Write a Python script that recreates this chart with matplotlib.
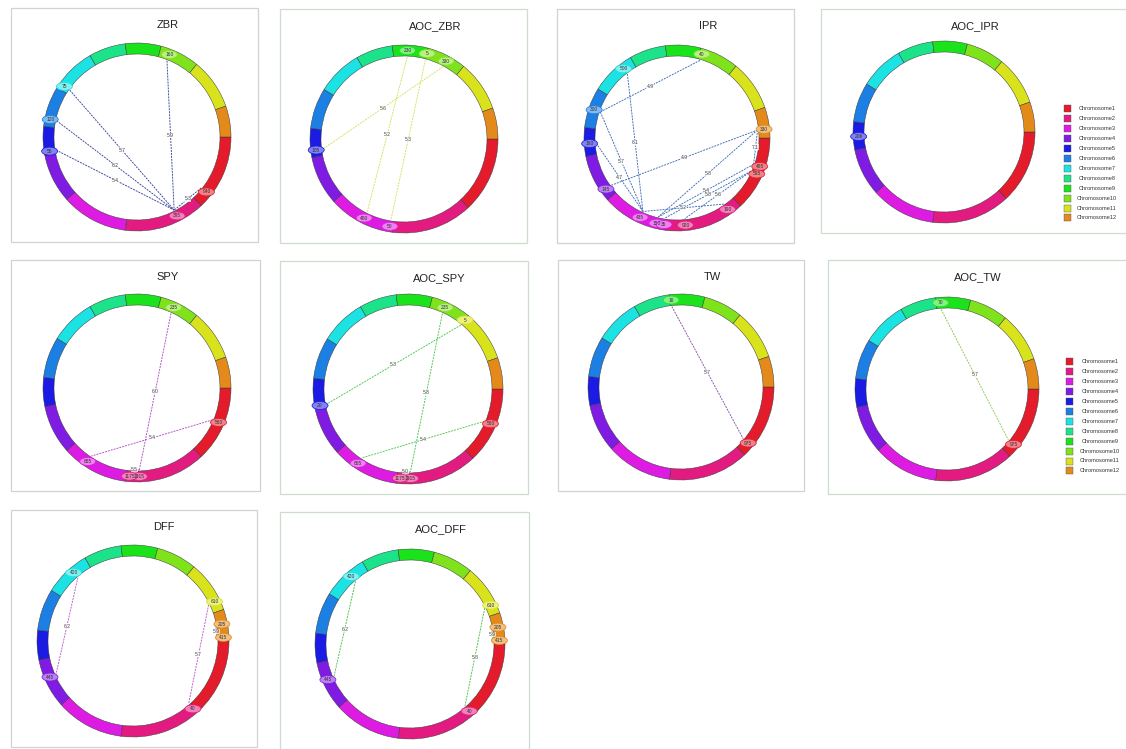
import numpy as np
import matplotlib
matplotlib.use("Agg")
import matplotlib.pyplot as plt
from matplotlib.patches import Wedge, Ellipse, Rectangle
from matplotlib.colors import to_rgb

plt.rcParams["font.family"] = ["Liberation Sans", "DejaVu Sans"]

# Genome: chromosome names, lengths (map units) and colours
chrom_names = [f"Chromosome{i}" for i in range(1, 13)]
chrom_len = [1150, 1230, 1010, 740, 440, 620, 690, 560, 540, 600, 770, 470]
chrom_colors = ["#E31B2B", "#E31B80", "#DE1BE3", "#7F1BE3", "#1B1BE3", "#1B7FE3",
                "#1BE3E3", "#1BE38A", "#1BE31B", "#7FE31B", "#D8E31B", "#E38A1B"]

# Interacting QTL pairs per trait: (chromosome, position) of both ends + LOD
zbr_from = [(10, 160), (7, 75), (6, 120), (5, 55), (1, 940)]
zbr_to = [(2, 395), (2, 395), (2, 395), (2, 395), (2, 395)]
zbr_lod = [5.9, 5.7, 6.2, 5.4, 5.3]

aoc_zbr_from = [(9, 230), (10, 5), (10, 330)]
aoc_zbr_to = [(3, 480), (3, 50), (5, 105)]
aoc_zbr_lod = [5.2, 5.3, 5.6]

ipr_from = [(10, 40), (6, 300), (7, 500), (5, 190), (4, 145), (12, 330),
            (12, 330), (1, 465), (1, 595), (2, 190), (1, 595)]
ipr_to = [(6, 300), (3, 435), (3, 435), (3, 435), (12, 330), (3, 150),
          (1, 465), (3, 150), (2, 920), (3, 435), (3, 35)]
ipr_lod = [4.9, 5.7, 6.1, 4.7, 4.9, 5.8, 7.1, 5.4, 5.6, 5.2, 5.8]

aoc_ipr_from = []
aoc_ipr_to = []
aoc_ipr_lod = []
aoc_ipr_single = [(5, 206)]

spy_from = [(10, 235), (1, 560), (2, 1015)]
spy_to = [(2, 1015), (3, 655), (2, 1175)]
spy_lod = [6.0, 5.4, 5.5]

aoc_spy_from = [(10, 235), (11, 5), (1, 560), (2, 1015)]
aoc_spy_to = [(2, 1015), (5, 20), (3, 655), (2, 1175)]
aoc_spy_lod = [5.8, 5.3, 5.4, 5.0]

tw_from = [(9, 16)]
tw_to = [(1, 975)]
tw_lod = [5.7]

aoc_tw_from = [(9, 70)]
aoc_tw_to = [(1, 975)]
aoc_tw_lod = [5.7]

dff_from = [(7, 420), (11, 610), (12, 205)]
dff_to = [(4, 445), (2, 40), (12, 415)]
dff_lod = [6.2, 5.7, 5.9]

aoc_dff_from = [(7, 420), (11, 610), (12, 205)]
aoc_dff_to = [(4, 445), (2, 40), (12, 415)]
aoc_dff_lod = [6.2, 5.8, 5.9]

# Panel layout in figure pixels: box (left, top, right, bottom), circle centre, radius
panels = [
    dict(title="ZBR", data=(zbr_from, zbr_to, zbr_lod, []), link="#34449c",
         box=(11, 8, 258, 242), c=(137, 137), R=94, border="#d2d2d2", legend=False),
    dict(title="AOC_ZBR", data=(aoc_zbr_from, aoc_zbr_to, aoc_zbr_lod, []), link="#d5e05a",
         box=(280, 9, 527, 243), c=(404, 139), R=94, border="#cddccd", legend=False),
    dict(title="IPR", data=(ipr_from, ipr_to, ipr_lod, []), link="#3c6cb4",
         box=(557, 9, 794, 243), c=(677, 138), R=93, border="#d2d2d2", legend=False),
    dict(title="AOC_IPR", data=(aoc_ipr_from, aoc_ipr_to, aoc_ipr_lod, aoc_ipr_single),
         link="#3c6cb4", box=(821, 9, 1135, 233), c=(944, 132), R=91,
         border="#cddccd", legend=(1067, 108.5, 1097)),
    dict(title="SPY", data=(spy_from, spy_to, spy_lod, []), link="#b04cc8",
         box=(11, 260, 260, 491), c=(137, 388), R=94, border="#d2d2d2", legend=False),
    dict(title="AOC_SPY", data=(aoc_spy_from, aoc_spy_to, aoc_spy_lod, []), link="#4cc84c",
         box=(280, 261, 528, 494), c=(408, 389), R=95, border="#cddccd", legend=False),
    dict(title="TW", data=(tw_from, tw_to, tw_lod, []), link="#8450b4",
         box=(558, 260, 804, 491), c=(681, 387), R=93, border="#d2d2d2", legend=False),
    dict(title="AOC_TW", data=(aoc_tw_from, aoc_tw_to, aoc_tw_lod, []), link="#8cc850",
         box=(828, 260, 1135, 494), c=(947, 389), R=92, border="#cddccd",
         legend=(1069, 361.5, 1100)),
    dict(title="DFF", data=(dff_from, dff_to, dff_lod, []), link="#c058c8",
         box=(11, 510, 257, 747), c=(133, 641), R=96, border="#d2d2d2", legend=False),
    dict(title="AOC_DFF", data=(aoc_dff_from, aoc_dff_to, aoc_dff_lod, []), link="#48c048",
         box=(280, 512, 529, 755), c=(410, 644), R=95, border="#cddccd", legend=False),
]

total = float(sum(chrom_len))
starts = np.concatenate([[0.0], np.cumsum(chrom_len)[:-1]]) / total * 360.0
spans = np.array(chrom_len) / total * 360.0


def angle(chrom, pos):
    return starts[chrom - 1] + pos / total * 360.0


def polar(cx, cy, r, a):
    t = np.deg2rad(a)
    return cx + r * np.cos(t), cy + r * np.sin(t)


def tint(color, f):
    rgb = np.array(to_rgb(color))
    return tuple(rgb + (1 - rgb) * f)


fig = plt.figure(figsize=(11.26, 7.49), dpi=100)
ax = fig.add_axes([0, 0, 1, 1])
ax.set_xlim(0, 1126)
ax.set_ylim(749, 0)
ax.axis("off")

ring_w = 11
for p in panels:
    l, t, r, b = p["box"]
    ax.add_patch(Rectangle((l, t), r - l, b - t, fill=False, ec=p["border"], lw=0.9, zorder=0))
    cx, cy = p["c"]
    R = p["R"]
    ax.text(cx + 31, t + 17, p["title"], fontsize=8, ha="center", va="center", color="#222222")

    for i in range(12):
        ax.add_patch(Wedge((cx, cy), R, starts[i], starts[i] + spans[i], width=ring_w,
                           fc=chrom_colors[i], ec="#3a3a3a", lw=0.35, zorder=1))

    frm, to, lod, single = p["data"]
    r_link = R - ring_w - 1
    r_mark = R - ring_w / 2
    markers = []
    for (c1, p1), (c2, p2), v in zip(frm, to, lod):
        x1, y1 = polar(cx, cy, r_link, angle(c1, p1))
        x2, y2 = polar(cx, cy, r_link, angle(c2, p2))
        ax.plot([x1, x2], [y1, y2], color=p["link"], lw=0.65, ls=(0, (2.2, 1.1)), zorder=2)
        ax.text((x1 + x2) / 2, (y1 + y2) / 2, f"{v:.1f}", fontsize=3.6, color="#444444",
                ha="center", va="center", zorder=3,
                bbox=dict(fc="white", ec="none", pad=0.2, alpha=0.7))
        for m in [(c1, p1), (c2, p2)]:
            if m not in markers:
                markers.append(m)
    for m in single:
        if m not in markers:
            markers.append(m)

    for c, pos in markers:
        x, y = polar(cx, cy, r_mark, angle(c, pos))
        col = chrom_colors[c - 1]
        ax.add_patch(Ellipse((x, y), 16, 8, fc=tint(col, 0.45), ec=col, lw=0.55, zorder=4))
        ax.text(x, y, str(pos), fontsize=3.5, color="#333333", ha="center", va="center", zorder=5)

    if p["legend"]:
        sx, sy, tx = p["legend"]
        for i, name in enumerate(chrom_names):
            yy = sy + i * 9.95
            ax.add_patch(Rectangle((sx - 3.5, yy - 3.5), 7, 7, fc=chrom_colors[i],
                                   ec="#555555", lw=0.3, zorder=2))
            ax.text(tx, yy, name, fontsize=4.1, ha="center", va="center", color="#333333")

fig.savefig("out.png", dpi=100, facecolor="white")
